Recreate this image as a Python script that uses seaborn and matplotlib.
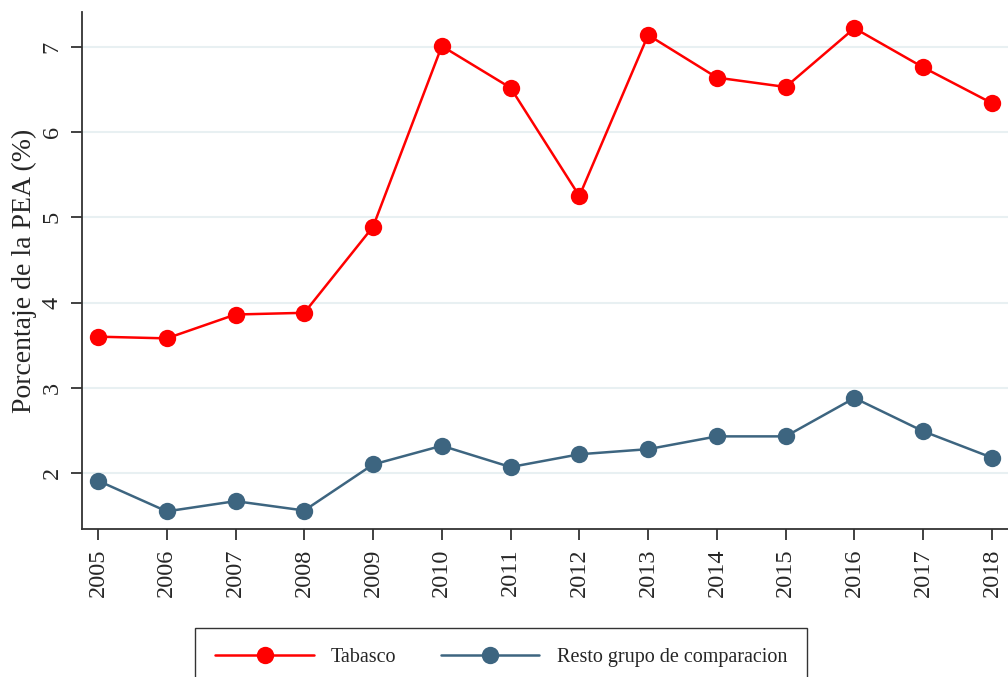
import numpy as np
import pandas as pd
import matplotlib
matplotlib.use("Agg")
from matplotlib import pyplot as plt
import seaborn as sns

# Values
years = [2005, 2006, 2007, 2008, 2009, 2010, 2011, 2012, 2013, 2014, 2015, 2016, 2017, 2018]
tabasco = [3.60, 3.58, 3.86, 3.88, 4.89, 7.01, 6.52, 5.25, 7.14, 6.64, 6.53, 7.22, 6.76, 6.34]
resto = [1.91, 1.55, 1.67, 1.56, 2.10, 2.32, 2.07, 2.22, 2.28, 2.43, 2.43, 2.88, 2.49, 2.18]
series_names = ["Tabasco", "Resto grupo de comparacion"]
colors = ["#ff0000", "#3d6580"]

df = pd.DataFrame({"year": years, series_names[0]: tabasco, series_names[1]: resto})
long_df = df.melt(id_vars="year", var_name="serie", value_name="pct")

sns.set_style("white")
plt.rcParams["font.family"] = ["Liberation Serif", "DejaVu Serif"]

fig = plt.figure(figsize=(10.08, 6.77), dpi=100)
ax = fig.add_axes([0.0813, 0.2186, 0.9187, 0.7637])

sns.lineplot(data=long_df, x="year", y="pct", hue="serie", hue_order=series_names,
             palette=colors, marker="o", markersize=12.5, markeredgewidth=0,
             linewidth=1.8, ax=ax, legend=True)

ax.set_xlim(2004.767, 2018.233)
ax.set_ylim(1.343, 7.41)
ax.set_xticks(years)
ax.set_xticklabels([str(y) for y in years], rotation=90, fontsize=17.5)
ax.set_yticks([2, 3, 4, 5, 6, 7])
ax.set_yticklabels(["2", "3", "4", "5", "6", "7"], rotation=90, va="center", fontsize=17.5)
ax.tick_params(axis="both", direction="out", length=8, width=1.3, color="#333333",
               pad=6, bottom=True, left=True)
ax.set_xlabel("")
ax.set_ylabel("Porcentaje de la PEA (%)", fontsize=20, labelpad=3)

ax.yaxis.grid(True, color="#e8f0f2", linewidth=1.5)
ax.set_axisbelow(True)
for side in ["top", "right"]:
    ax.spines[side].set_visible(False)
for side in ["left", "bottom"]:
    ax.spines[side].set_color("#333333")
    ax.spines[side].set_linewidth(1.3)

handles, labels = ax.get_legend_handles_labels()
ax.get_legend().remove()
leg = fig.legend(handles, labels, loc="upper left", bbox_to_anchor=(0.1935, 0.0724),
                 ncol=2, fontsize=14.5, frameon=True, fancybox=False,
                 handlelength=4.9, handletextpad=0.85,
                 columnspacing=2.2, borderpad=1.0, borderaxespad=0)
leg.get_frame().set_edgecolor("black")
leg.get_frame().set_linewidth(1.0)

fig.savefig("out.png", dpi=100)
